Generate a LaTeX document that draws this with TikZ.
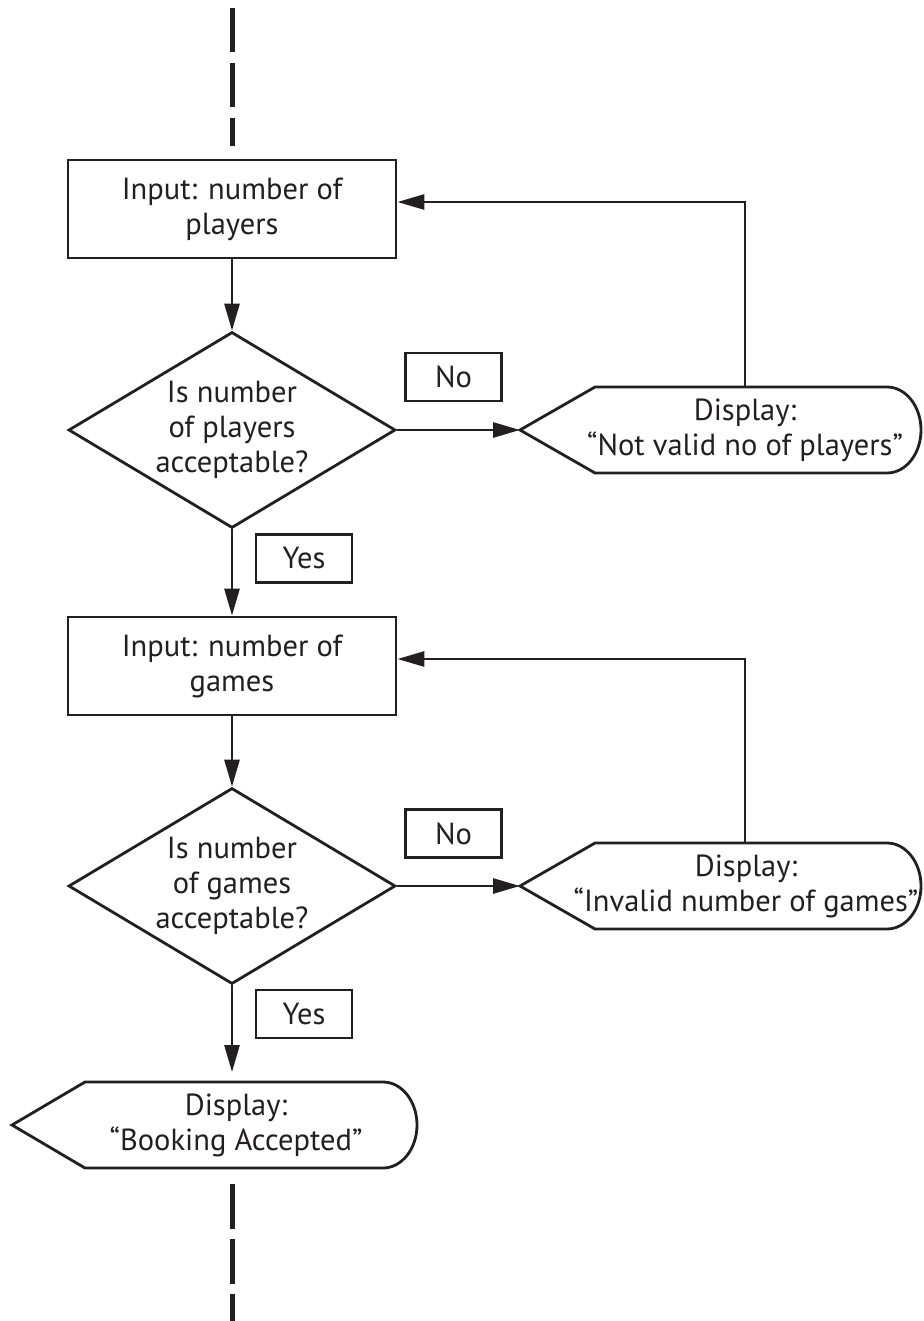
\documentclass[tikz,border=0pt]{standalone}
\usepackage{fontspec}
\setmainfont{PT Sans}
\usetikzlibrary{arrows.meta,shapes.geometric}
\definecolor{ink}{HTML}{231F20}
\begin{document}
\begin{tikzpicture}[x=1pt,y=-1pt,
  every node/.style={text=ink, font=\fontsize{30.5}{35}\selectfont, align=center},
  ln/.style={draw=ink, line width=2.8pt},
  box/.style={ln, rectangle, minimum width=328pt, minimum height=98pt, inner sep=0pt},
  qbox/.style={ln, diamond, minimum width=327pt, minimum height=196pt, inner sep=0pt},
  tag/.style={ln, rectangle, minimum width=96pt, minimum height=48pt, inner sep=0pt},
  arr/.style={draw=ink, line width=2.8pt, -{Triangle[length=27pt,width=15pt]}},
  dashline/.style={draw=ink, line width=5pt, dash pattern=on 44pt off 11pt},
  dispshape/.style={draw=ink, line width=2.8pt, line join=miter}
]
\useasboundingbox (0,0) rectangle (923,1321);

% top entry
\coordinate (s0) at (232,8);
\coordinate (s1) at (232,146);
\draw[dashline] (s0) -- (s1);

% first input / decision
\node[box] (b1) at (232,209) {Input: number of\\players};
\node[qbox] (q1) at (232,430) {};
\node (q1t) at (q1.center) {Is number\\of players\\acceptable?};

\draw[dispshape] (520,430) coordinate (p1tip) -- (595,387) -- (887,387)
  arc[start angle=90,end angle=-90,x radius=34pt,y radius=43pt] -- (595,473) -- cycle;
\coordinate (p1top) at (745,387);
\node (t1) at (745,430) {Display:\\“Not valid no of players”};

\node[tag] (no1) at (453.5,377) {No};
\node[tag] (yes1) at (304,558.5) {Yes};

% second input / decision
\node[box] (b2) at (232,666) {Input: number of\\games};
\node[qbox] (q2) at (232,886) {};
\node (q2t) at (q2.center) {Is number\\of games\\acceptable?};

\draw[dispshape] (520,886) coordinate (p2tip) -- (595,843) -- (887,843)
  arc[start angle=90,end angle=-90,x radius=34pt,y radius=43pt] -- (595,929) -- cycle;
\coordinate (p2top) at (745,843);
\node (t2) at (746,886) {Display:\\“Invalid number of games”};

\node[tag] (no2) at (453.5,833.5) {No};
\node[tag] (yes2) at (304,1014) {Yes};

% final display
\draw[dispshape] (12,1125) coordinate (p3tip) -- (85,1082) -- (383,1082)
  arc[start angle=90,end angle=-90,x radius=34pt,y radius=43pt] -- (85,1168) -- cycle;
\coordinate (p3in) at (232,1072);
\node (t3) at (236,1125) {Display:\\“Booking Accepted”};

% exit
\coordinate (e0) at (232,1184);
\coordinate (e1) at (232,1321);
\draw[dashline, dash pattern=on 45pt off 10pt] (e0) -- (e1);

% connectors
\draw[arr] (b1.south) -- (q1.north);
\draw[arr] (q1.south) -- (b2.north);
\draw[arr] (q1.east) -- (p1tip);
\draw[arr] (p1top) |- ([yshift=7pt]b1.east);
\draw[arr] (b2.south) -- (q2.north);
\draw[arr] (q2.east) -- (p2tip);
\draw[arr] (p2top) |- ([yshift=7pt]b2.east);
\draw[arr] (q2.south) -- (p3in);
\end{tikzpicture}
\end{document}
